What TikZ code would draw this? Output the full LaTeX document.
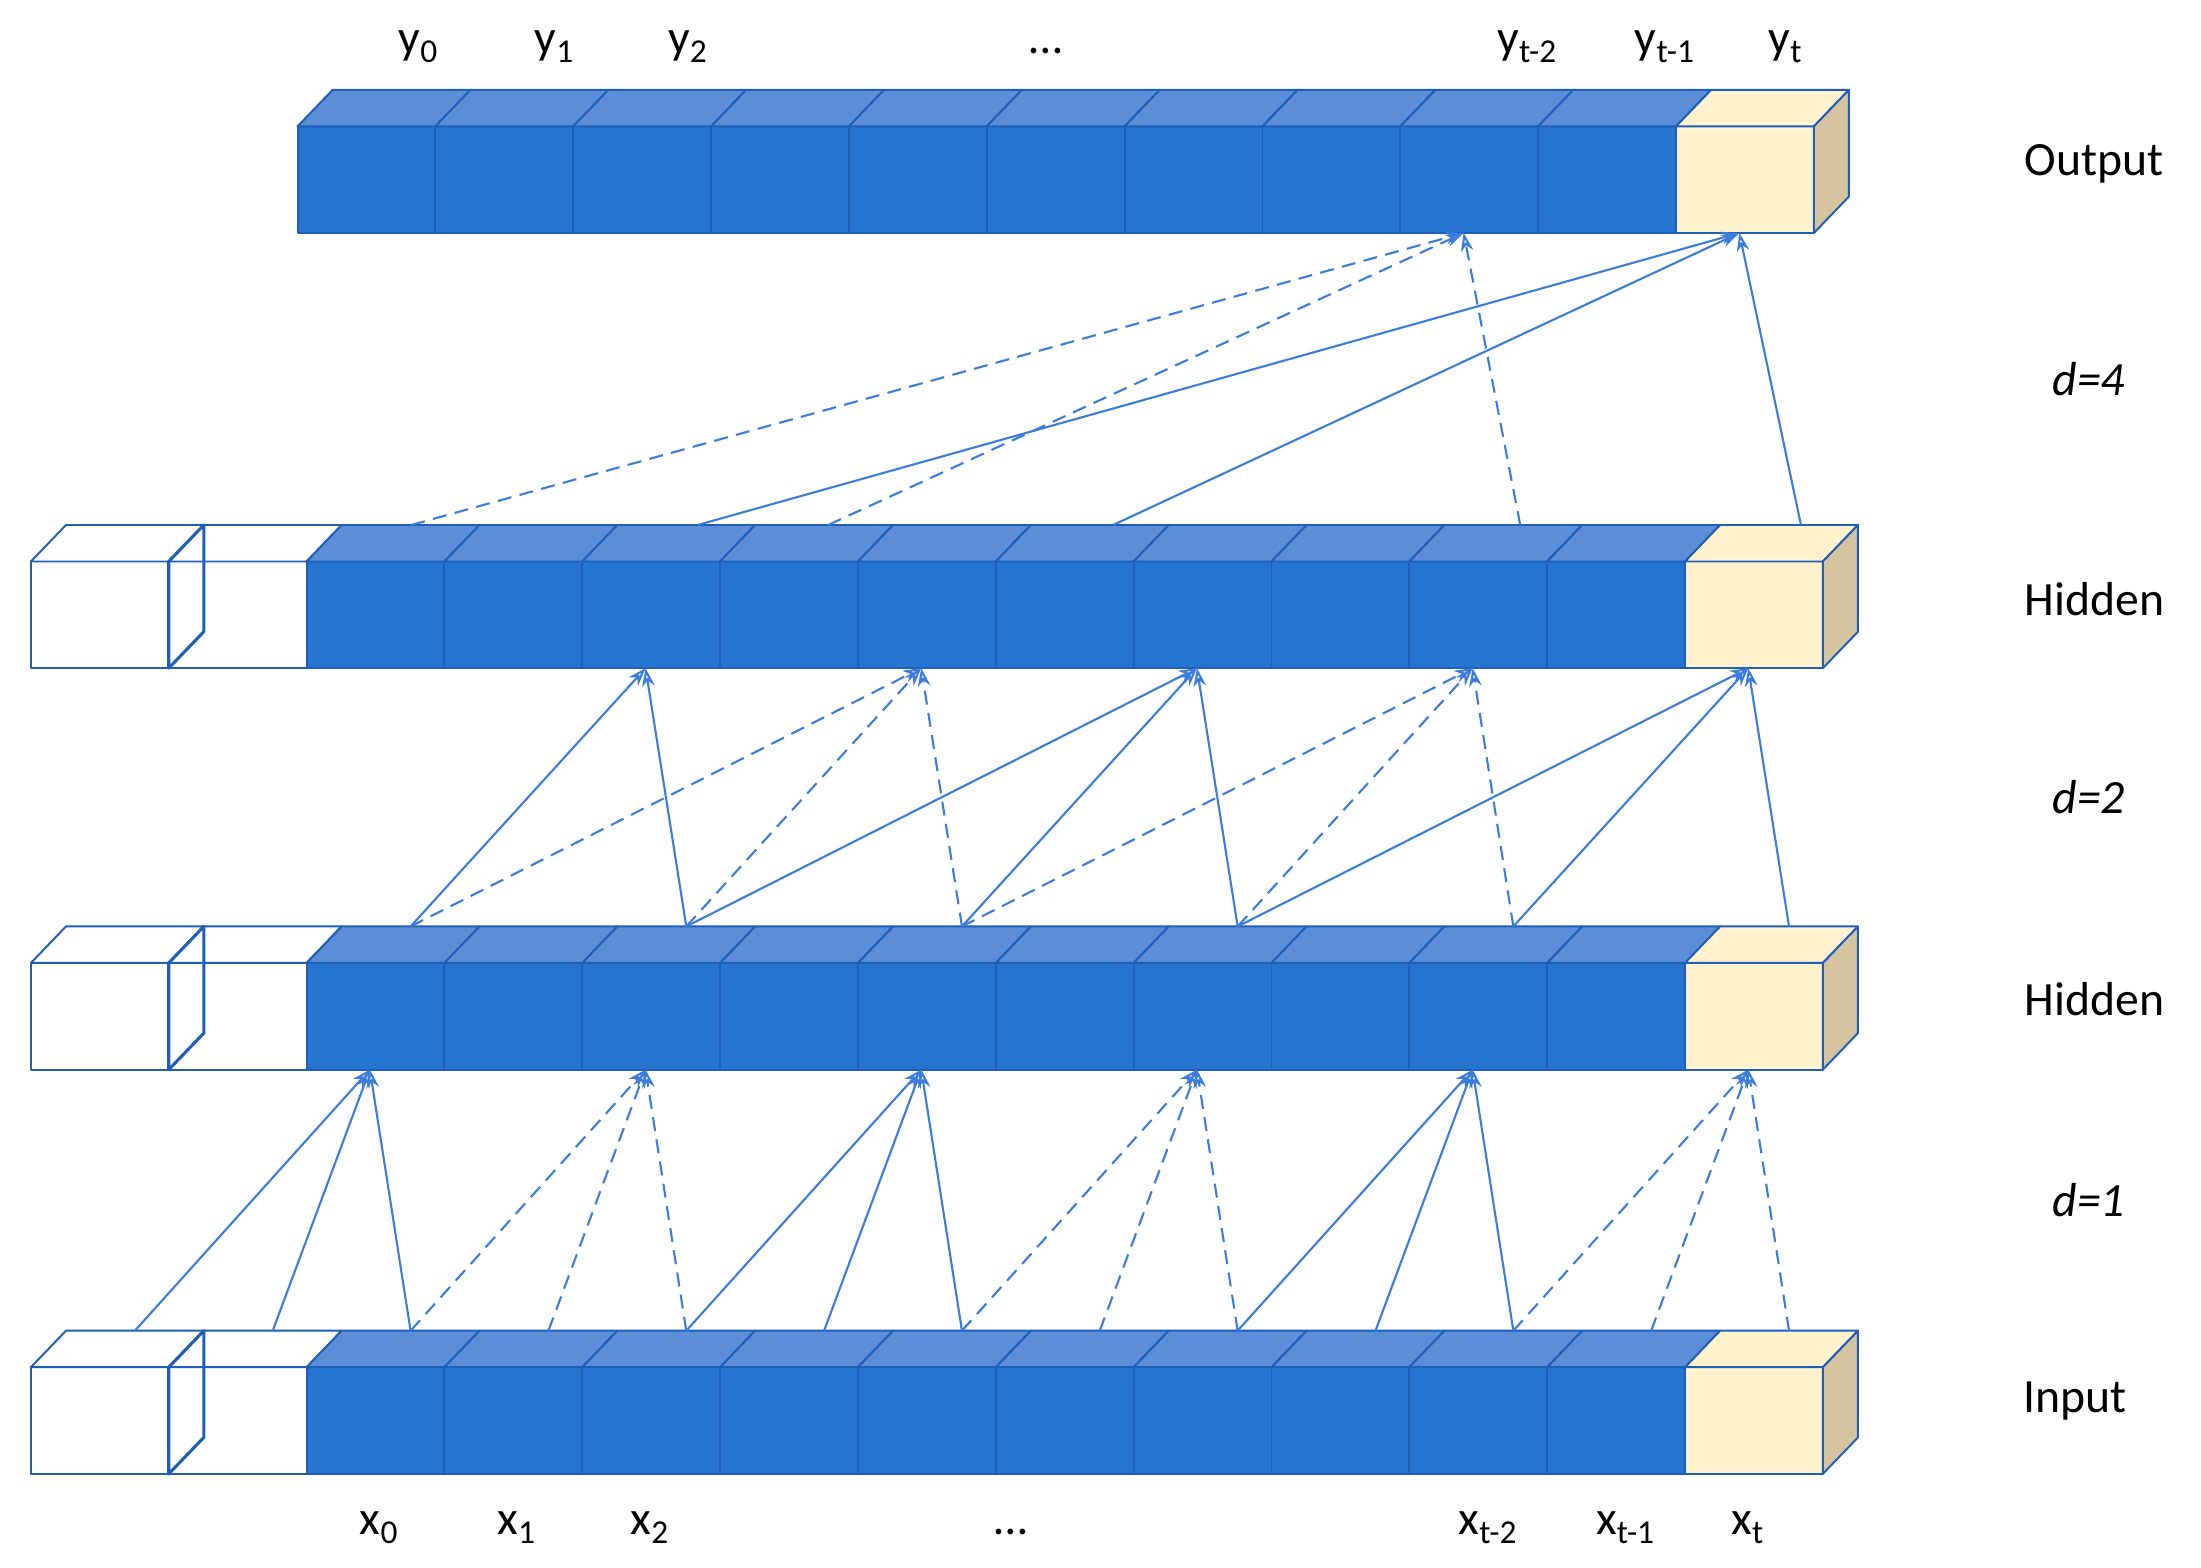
\documentclass[tikz,border=0pt]{standalone}
\usepackage{fontspec}
\setmainfont{Carlito}
\usetikzlibrary{arrows.meta}
\definecolor{bfront}{HTML}{2474D0}
\definecolor{btop}{HTML}{5B8ED6}
\definecolor{bline}{HTML}{1F5FB8}
\definecolor{bfr}{HTML}{FFF2CC}
\definecolor{bsd}{HTML}{D6C4A0}
\definecolor{arr}{HTML}{3C7DDB}
\tikzset{
 cell/.style={draw=bline,line width=1.4pt,line join=round},
 con/.style={draw=arr,line width=1.5pt,-{Stealth[length=13pt,width=9pt,open]}},
 dsh/.style={con,dash pattern=on 10pt off 6pt},
 lab/.style={font=\fontsize{34}{40}\selectfont,anchor=base},
 side/.style={font=\fontsize{34}{40}\selectfont}
}
\newcommand{\cw}{98.2}
% #1 name, #2 x0, #3 front top y, #4 first cell, #5 number of white cells
\newcommand{\myrow}[5]{%
 \foreach \i in {#4,...,12}{%
  \pgfmathsetmacro{\xa}{#2+\i*\cw}\pgfmathsetmacro{\xb}{\xa+\cw}%
  \pgfmathsetmacro{\yb}{#3+76}\pgfmathsetmacro{\yt}{#3-26}%
  \ifnum\i<#5 \def\ff{white}\def\tf{white}\else\ifnum\i=12 \def\ff{bfr}\def\tf{bfr}\else\def\ff{bfront}\def\tf{btop}\fi\fi
  \path[cell,fill=\ff] (\xa,#3) rectangle (\xb,\yb);
  \path[cell,fill=\tf] (\xa,#3) -- (\xa+25,\yt) -- (\xb+25,\yt) -- (\xb,#3) -- cycle;
  \coordinate (#1-t-\i) at (\xa+\cw/2+25,\yt);
  \coordinate (#1-b-\i) at (\xa+\cw/2-4,\yb);
 }
 \pgfmathsetmacro{\xe}{#2+13*\cw}
 \path[cell,fill=bsd] (\xe,#3) -- (\xe+25,#3-26) -- (\xe+25,#3+50) -- (\xe,#3+76) -- cycle;
 \ifnum#5>0
 \pgfmathsetmacro{\xe}{#2+\cw}
 \draw[cell,line width=2.2pt] (\xe,#3) -- (\xe+25,#3-26) -- (\xe+25,#3+50) -- (\xe,#3+76) -- cycle;
 \fi
}
\begin{document}
\begin{tikzpicture}[x=1pt,y=-1pt]
\useasboundingbox[fill=white] (0,0) rectangle (1568,1117);
\myrow{in}{22}{974}{0}{2}
\myrow{ha}{22}{686}{0}{2}
\myrow{hb}{22}{400}{0}{2}
\myrow{o}{15.6}{90}{2}{0}
% d=1
\foreach \k in {2,4,...,12}{
 \pgfmathtruncatemacro{\a}{\k-2}\pgfmathtruncatemacro{\b}{\k-1}\pgfmathtruncatemacro{\m}{mod(\k,4)}
 \ifnum\m=2 \def\st{con}\else\def\st{dsh}\fi
 \foreach \s in {\a,\b,\k}{\draw[\st] (in-t-\s) -- (ha-b-\k);}
}
% d=2
\foreach \k in {4,6,...,12}{
 \pgfmathtruncatemacro{\a}{\k-4}\pgfmathtruncatemacro{\b}{\k-2}\pgfmathtruncatemacro{\m}{mod(\k,4)}
 \ifnum\m=0 \def\st{con}\else\def\st{dsh}\fi
 \ifnum\a>1 \draw[\st] (ha-t-\a) -- (hb-b-\k);\fi
 \draw[\st] (ha-t-\b) -- (hb-b-\k);
 \draw[\st] (ha-t-\k) -- (hb-b-\k);
}
% d=4
\coordinate (p1) at (293,374);\coordinate (p2) at (590,374);\coordinate (p3) at (1083,374);
\coordinate (q1) at (497,374);\coordinate (q2) at (793,374);\coordinate (q3) at (1283,374);
\foreach \s in {p1,p2,p3}{\draw[dsh] (\s) -- (o-b-10);}
\foreach \s in {q1,q2,q3}{\draw[con] (\s) -- (o-b-12);}
% labels
\node[lab] (ly0) at (298,38) {y\textsubscript{0}};
\node[lab] (ly1) at (395,38) {y\textsubscript{1}};
\node[lab] (ly2) at (490,38) {y\textsubscript{2}};
\node[lab] (lyd) at (745,38) {…};
\node[lab] (ly3) at (1088,38) {y\textsubscript{t-2}};
\node[lab] (ly4) at (1186,38) {y\textsubscript{t-1}};
\node[lab] (ly5) at (1272,38) {y\textsubscript{t}};
\node[lab] (lx0) at (270,1093) {x\textsubscript{0}};
\node[lab] (lx1) at (368,1093) {x\textsubscript{1}};
\node[lab] (lx2) at (463,1093) {x\textsubscript{2}};
\node[lab] (lxd) at (720,1093) {…};
\node[lab] (lx3) at (1060,1093) {x\textsubscript{t-2}};
\node[lab] (lx4) at (1158,1093) {x\textsubscript{t-1}};
\node[lab] (lx5) at (1245,1093) {x\textsubscript{t}};
\node[side] (r1) at (1492,117) {Output};
\node[side] (r2) at (1488,270) {\itshape d=4};
\node[side] (r3) at (1492,427) {Hidden};
\node[side] (r4) at (1488,568) {\itshape d=2};
\node[side] (r5) at (1492,712) {Hidden};
\node[side] (r6) at (1488,855) {\itshape d=1};
\node[side] (r7) at (1478,998) {Input};
\end{tikzpicture}
\end{document}
